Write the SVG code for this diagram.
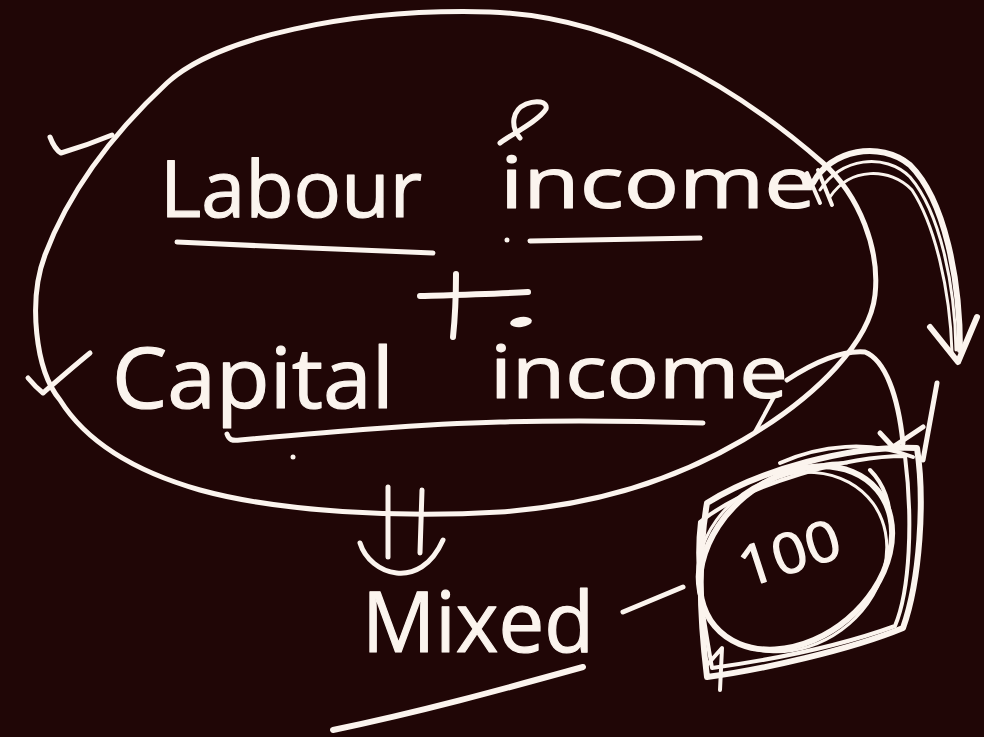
<svg xmlns="http://www.w3.org/2000/svg" width="984" height="737" viewBox="0 0 984 737">
  <defs>
    <style>
      .ink { fill: none; stroke: #fbf4ee; stroke-linecap: round; stroke-linejoin: round; }
      .w5 { stroke-width: 5; }
      .w4 { stroke-width: 4; }
      .w3 { stroke-width: 3; }
      .w6 { stroke-width: 6; }
      .hand { fill: #fbf4ee; stroke: #fbf4ee; stroke-width: 1.2; stroke-linejoin: round; font-family: "Open Sans", "Liberation Sans", sans-serif; font-weight: 400; }
      .dot { fill: #fbf4ee; }
    </style>
  </defs>

  <!-- chalkboard -->
  <rect x="0" y="0" width="984" height="737" fill="#200606"/>

  <!-- big loop around both incomes, with its two ticks -->
  <g id="income-loop">
    <path class="ink w5" d="M 60,400 C 35,370 28,300 45,255 C 62,210 95,150 167,83 C 215,38 350,8 490,12 C 620,16 740,90 823,163 C 860,196 880,250 875,295 C 870,340 820,395 743,440 C 680,477 600,505 500,512 C 400,518 280,512 200,490 C 130,470 85,440 60,400"/>
    <path class="ink w5" d="M 50,137 C 53,145 56,150 61,153 C 78,148 95,142 112,135"/>
    <path class="ink w5" d="M 28,378 C 33,384 38,389 43,393 C 58,380 74,366 90,353"/>
  </g>

  <!-- Labour income -->
  <g id="labour-income">
    <text class="hand" x="160" y="217" font-size="78" textLength="262" lengthAdjust="spacingAndGlyphs">Labour</text>
    <text class="hand" x="500" y="208" font-size="72" textLength="316" lengthAdjust="spacingAndGlyphs">income</text>
    <path class="ink w5" d="M 500,143 C 508,136 538,122 546,109 C 548,101 536,100 526,104 C 512,110 510,126 520,138"/>
    <path class="ink w5" d="M 177,242 C 260,246 350,250 433,253"/>
    <path class="ink w5" d="M 530,241 C 590,240 650,239 700,238"/>
    <circle class="dot" cx="507" cy="240" r="2.5"/>
  </g>

  <!-- plus sign -->
  <g id="plus">
    <path class="ink w6" d="M 420,296 C 455,295 495,294 528,292"/>
    <path class="ink w6" d="M 456,274 C 456,295 455,318 453,337"/>
    <ellipse class="dot" cx="521" cy="322" rx="11" ry="5" transform="rotate(-8 521 322)"/>
  </g>

  <!-- Capital income -->
  <g id="capital-income">
    <text class="hand" x="112" y="408" font-size="84" textLength="282" lengthAdjust="spacingAndGlyphs">Capital</text>
    <text class="hand" x="490" y="398" font-size="74" textLength="298" lengthAdjust="spacingAndGlyphs">income</text>
    <path class="ink w5" d="M 227,434 C 229,440 232,441 240,440 C 330,432 420,424 500,422 C 570,420 640,421 703,423"/>
    <circle class="dot" cx="293" cy="457" r="2.5"/>
  </g>

  <!-- Mixed -->
  <g id="mixed">
    <text class="hand" x="362" y="652" font-size="84" textLength="232" lengthAdjust="spacingAndGlyphs">Mixed</text>
    <path class="ink w6" d="M 333,730 C 420,712 500,690 583,667"/>
  </g>

  <!-- 100, circled several times -->
  <g id="box-100">
    <path class="ink w6" d="M 707,503 C 760,470 850,445 917,448 C 925,500 920,580 903,628 C 850,650 760,670 707,677 C 700,620 697,560 707,503 Z"/>
    <path class="ink w4" d="M 700,522 C 750,482 850,456 905,456 C 913,520 910,590 895,626 C 840,646 770,660 712,668 C 704,620 694,570 700,522 Z"/>
    <ellipse class="ink w6" cx="796" cy="558" rx="106" ry="80" transform="rotate(-40 796 558)"/>
    <ellipse class="ink w3" cx="792" cy="562" rx="100" ry="84" transform="rotate(-36 792 562)"/>
    <path class="ink w4" d="M 707,665 L 722,648 L 720,690"/>
    <path class="ink w4" d="M 780,463 C 820,445 870,440 913,457"/>
    <path class="ink w3" d="M 780,477 C 810,465 835,462 847,463"/>
    <text class="hand" x="746" y="588" font-size="56" textLength="104" lengthAdjust="spacingAndGlyphs" transform="rotate(-18 746 588)">100</text>
  </g>

  <!-- arrows and links -->
  <g id="connectors">
    <!-- thick arc from the first income down to the circled 100 -->
    <path class="ink w6" d="M 813,183 C 830,150 880,140 910,165 C 945,200 960,280 960,350"/>
    <path class="ink w3" d="M 820,190 C 840,158 885,152 910,177 C 940,212 955,285 956,350"/>
    <path class="ink w3" d="M 830,197 C 850,167 890,167 912,190 C 935,225 950,290 952,352"/>
    <path class="ink w4" d="M 807,173 L 820,203"/>
    <path class="ink w4" d="M 818,170 L 832,205"/>
    <path class="ink w6" d="M 930,327 L 958,362 L 977,317"/>
    <!-- curve from the second income into the circle -->
    <path class="ink w5" d="M 787,380 C 810,365 840,350 865,352 C 885,360 898,395 903,443"/>
    <path class="ink w5" d="M 880,433 L 893,447 L 923,427"/>
    <path class="ink w5" d="M 937,383 L 923,460"/>
    <path class="ink w4" d="M 775,395 L 755,432"/>
    <path class="ink w4" d="M 870,470 C 885,485 890,505 890,520"/>
    <!-- equals-down arrow to Mixed -->
    <path class="ink w5" d="M 388,487 L 388,557"/>
    <path class="ink w5" d="M 422,490 L 420,553"/>
    <path class="ink w5" d="M 360,543 C 370,575 420,592 443,540"/>
    <!-- dash from Mixed to the circled 100 -->
    <path class="ink w5" d="M 623,612 L 683,587"/>
  </g>
</svg>
